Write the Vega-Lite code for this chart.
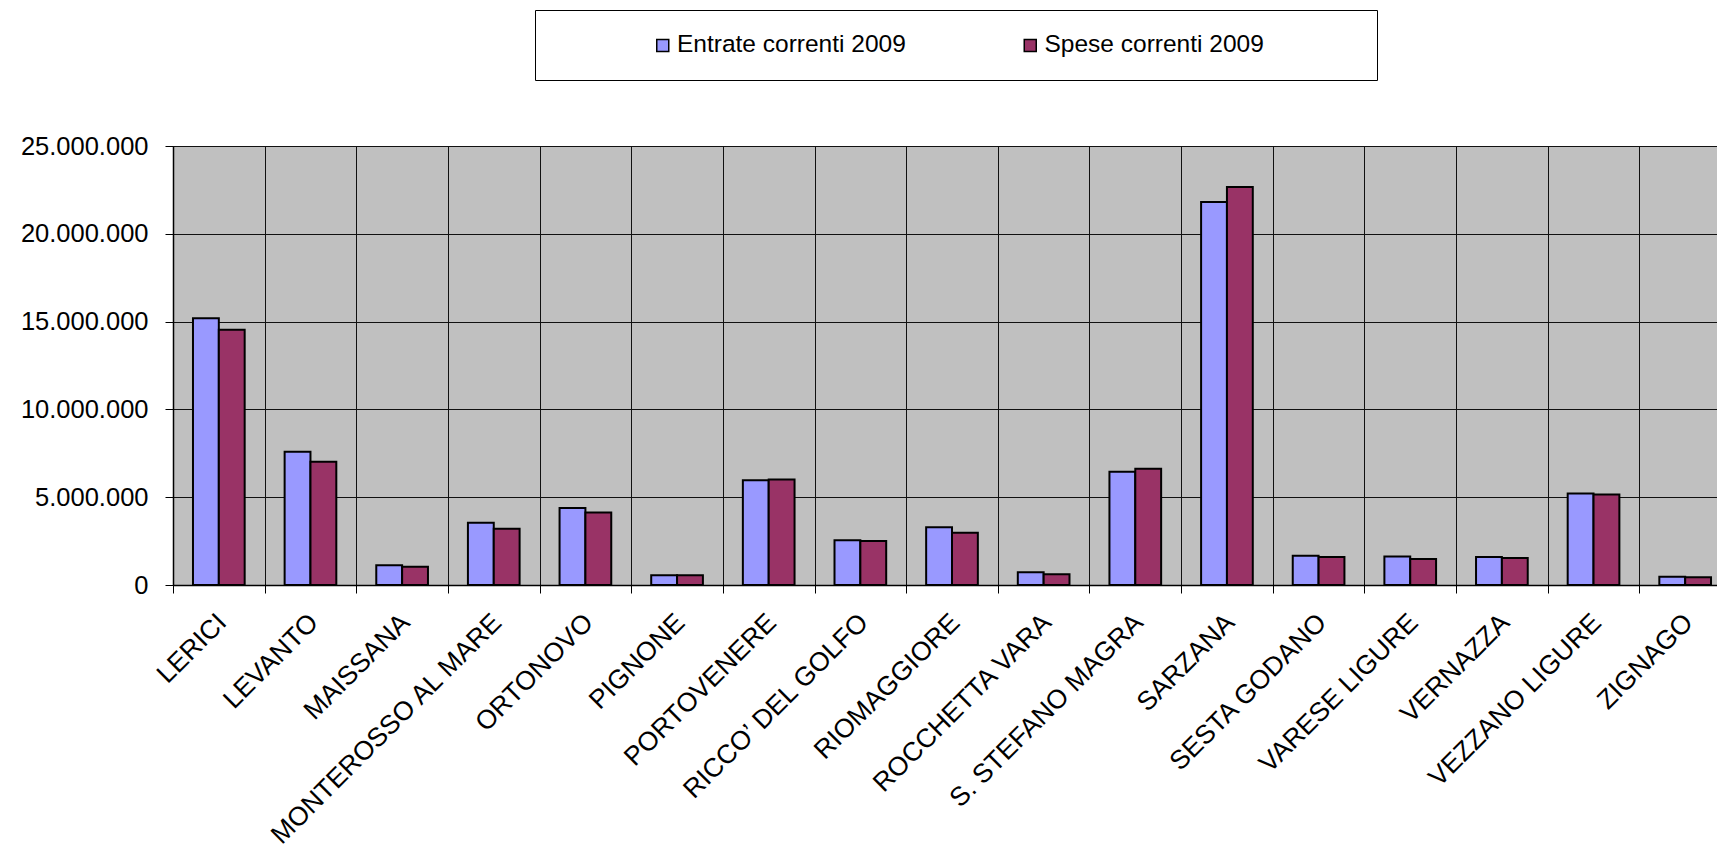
{
  "$schema": "https://vega.github.io/schema/vega-lite/v6.json",
  "width": 1558,
  "height": 439,
  "autosize": {"type": "none"},
  "padding": {"left": 173, "top": 146, "right": -14, "bottom": 267},
  "background": "white",
  "data": {
    "values": [
      {"comune": "LERICI", "serie": "Entrate correnti 2009", "valore": 15190000},
      {"comune": "LERICI", "serie": "Spese correnti 2009", "valore": 14540000},
      {"comune": "LEVANTO", "serie": "Entrate correnti 2009", "valore": 7590000},
      {"comune": "LEVANTO", "serie": "Spese correnti 2009", "valore": 7020000},
      {"comune": "MAISSANA", "serie": "Entrate correnti 2009", "valore": 1120000},
      {"comune": "MAISSANA", "serie": "Spese correnti 2009", "valore": 1040000},
      {"comune": "MONTEROSSO AL MARE", "serie": "Entrate correnti 2009", "valore": 3550000},
      {"comune": "MONTEROSSO AL MARE", "serie": "Spese correnti 2009", "valore": 3210000},
      {"comune": "ORTONOVO", "serie": "Entrate correnti 2009", "valore": 4390000},
      {"comune": "ORTONOVO", "serie": "Spese correnti 2009", "valore": 4130000},
      {"comune": "PIGNONE", "serie": "Entrate correnti 2009", "valore": 550000},
      {"comune": "PIGNONE", "serie": "Spese correnti 2009", "valore": 550000},
      {"comune": "PORTOVENERE", "serie": "Entrate correnti 2009", "valore": 5970000},
      {"comune": "PORTOVENERE", "serie": "Spese correnti 2009", "valore": 6010000},
      {"comune": "RICCO’  DEL GOLFO", "serie": "Entrate correnti 2009", "valore": 2550000},
      {"comune": "RICCO’  DEL GOLFO", "serie": "Spese correnti 2009", "valore": 2510000},
      {"comune": "RIOMAGGIORE", "serie": "Entrate correnti 2009", "valore": 3290000},
      {"comune": "RIOMAGGIORE", "serie": "Spese correnti 2009", "valore": 2970000},
      {"comune": "ROCCHETTA VARA", "serie": "Entrate correnti 2009", "valore": 720000},
      {"comune": "ROCCHETTA VARA", "serie": "Spese correnti 2009", "valore": 610000},
      {"comune": "S. STEFANO MAGRA", "serie": "Entrate correnti 2009", "valore": 6450000},
      {"comune": "S. STEFANO MAGRA", "serie": "Spese correnti 2009", "valore": 6620000},
      {"comune": "SARZANA", "serie": "Entrate correnti 2009", "valore": 21810000},
      {"comune": "SARZANA", "serie": "Spese correnti 2009", "valore": 22660000},
      {"comune": "SESTA GODANO", "serie": "Entrate correnti 2009", "valore": 1670000},
      {"comune": "SESTA GODANO", "serie": "Spese correnti 2009", "valore": 1590000},
      {"comune": "VARESE LIGURE", "serie": "Entrate correnti 2009", "valore": 1630000},
      {"comune": "VARESE LIGURE", "serie": "Spese correnti 2009", "valore": 1480000},
      {"comune": "VERNAZZA", "serie": "Entrate correnti 2009", "valore": 1600000},
      {"comune": "VERNAZZA", "serie": "Spese correnti 2009", "valore": 1540000},
      {"comune": "VEZZANO LIGURE", "serie": "Entrate correnti 2009", "valore": 5210000},
      {"comune": "VEZZANO LIGURE", "serie": "Spese correnti 2009", "valore": 5150000},
      {"comune": "ZIGNAGO", "serie": "Entrate correnti 2009", "valore": 475000},
      {"comune": "ZIGNAGO", "serie": "Spese correnti 2009", "valore": 440000}
    ]
  },
  "mark": {"type": "bar", "stroke": "#000", "strokeWidth": 2, "opacity": 1},
  "encoding": {
    "x": {
      "field": "comune",
      "type": "nominal",
      "sort": null,
      "scale": {"paddingInner": 0, "paddingOuter": 0},
      "axis": {
        "title": null,
        "tickBand": "extent",
        "grid": true,
        "gridColor": "#111",
        "gridWidth": 1,
        "gridOpacity": 1,
        "domainColor": "#000",
        "domainWidth": 1.5,
        "tickColor": "#000",
        "tickSize": 8,
        "labelAngle": -45,
        "labelAlign": "right",
        "labelBaseline": "middle",
        "labelFont": "Arial, Liberation Sans",
        "labelFontSize": 26.5,
        "labelColor": "#000",
        "labelPadding": 25,
        "labelOffset": 3,
        "labelLimit": 500,
        "labelOverlap": false
      }
    },
    "xOffset": {
      "field": "serie",
      "type": "nominal",
      "scale": {"paddingInner": 0, "paddingOuter": 0.773}
    },
    "y": {
      "field": "valore",
      "type": "quantitative",
      "scale": {"domain": [0, 25000000], "nice": false},
      "axis": {
        "title": null,
        "values": [0, 5000000, 10000000, 15000000, 20000000, 25000000],
        "format": ",d",
        "grid": true,
        "gridColor": "#111",
        "gridWidth": 1,
        "gridOpacity": 1,
        "domainColor": "#000",
        "domainWidth": 1.5,
        "tickColor": "#000",
        "tickSize": 8,
        "labelFont": "Arial, Liberation Sans",
        "labelFontSize": 25.5,
        "labelColor": "#000",
        "labelPadding": 17
      }
    },
    "color": {
      "field": "serie",
      "type": "nominal",
      "scale": {
        "domain": ["Entrate correnti 2009", "Spese correnti 2009"],
        "range": ["#9999FF", "#993366"]
      },
      "legend": {
        "orient": "none",
        "legendX": 362,
        "legendY": -136,
        "direction": "horizontal",
        "columns": 2,
        "title": " ",
        "titleOrient": "left",
        "titlePadding": 92.5,
        "titleFontSize": 1,
        "padding": 23,
        "strokeColor": "#000",
        "fillColor": "#fff",
        "symbolType": "square",
        "symbolSize": 144,
        "symbolStrokeColor": "#000",
        "symbolStrokeWidth": 1.5,
        "symbolOpacity": 1,
        "labelFont": "Arial, Liberation Sans",
        "labelFontSize": 24.5,
        "labelColor": "#000",
        "labelOffset": 2,
        "labelLimit": 600,
        "columnPadding": 111.5,
        "labelExpr": "datum.value == 'Spese correnti 2009' ? datum.label + '\u2800\u2800\u2800\u2800\u2800' : datum.label"
      }
    }
  },
  "config": {
    "view": {"stroke": null, "fill": "#C0C0C0"},
    "locale": {
      "number": {"decimal": ",", "thousands": ".", "grouping": [3], "currency": ["€", ""]}
    }
  }
}
